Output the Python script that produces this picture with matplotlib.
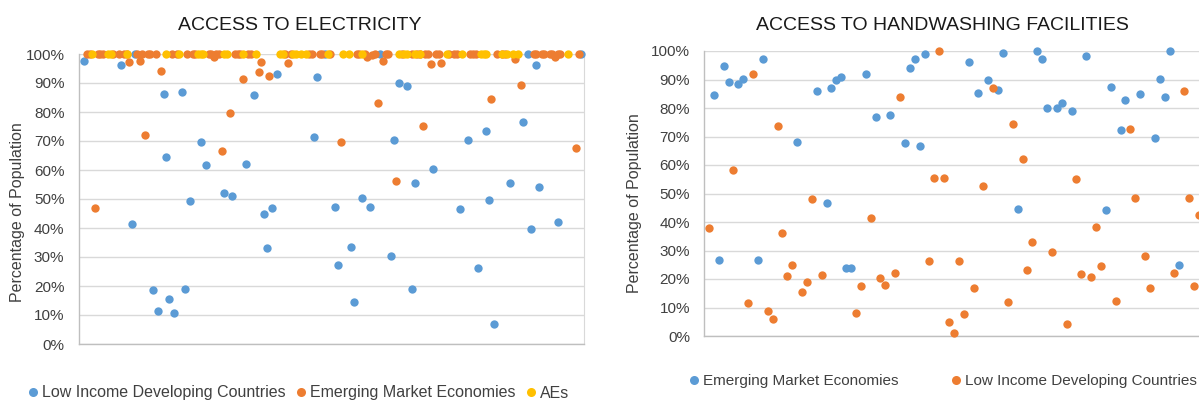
import matplotlib
matplotlib.use("Agg")
import matplotlib.pyplot as plt
from matplotlib.lines import Line2D
from matplotlib.ticker import FuncFormatter

plt.rcParams['font.family'] = ['Liberation Sans', 'DejaVu Sans']

BLUE = '#5B9BD5'
ORANGE = '#ED7D31'
YELLOW = '#FFC000'

# ---------------- Access to electricity (country index, % of population) ----------------
elec_lidc_x = [2, 16, 20, 21, 28, 30, 32, 33, 34, 36, 39, 40, 42, 46, 48, 55, 58, 63, 66, 70,
               71, 73, 75, 89, 90, 93, 97, 98, 103, 104, 107, 110, 114, 118, 119, 121, 124, 126,
               127, 134, 144, 147, 151, 154, 155, 157, 163, 168, 170, 171, 173, 174, 181, 190]
elec_lidc_y = [97.7, 96.2, 41.4, 100, 18.7, 11.5, 86.2, 64.6, 15.5, 10.7, 86.8, 19, 49.3, 69.7,
               61.7, 52.2, 51, 62.2, 86, 44.8, 33.1, 46.9, 93.1, 71.5, 92.1, 100, 47.2, 27.4, 33.4,
               14.5, 50.5, 47.2, 100, 30.3, 70.5, 89.9, 89.1, 19, 55.4, 60.3, 46.7, 70.5, 26.1,
               73.4, 49.5, 6.9, 55.4, 76.4, 100, 39.8, 96.2, 54, 42, 100]

elec_eme_x = [3, 4, 6, 7, 8, 9, 13, 15, 17, 18, 19, 22, 23, 24, 25, 26, 27, 29, 31, 35, 37, 41,
              43, 44, 49, 50, 51, 52, 53, 54, 57, 59, 60, 61, 62, 64, 65, 68, 69, 72, 78, 79, 80,
              87, 88, 91, 92, 95, 99, 105, 106, 108, 109, 111, 112, 113, 115, 116, 117, 120, 122,
              126, 128, 129, 130, 131, 132, 133, 135, 136, 137, 140, 142, 143, 148, 149, 150,
              156, 158, 160, 161, 165, 167, 172, 173, 175, 176, 178, 179, 180, 181, 182, 188, 189]
elec_eme_y = [100, 100, 46.9, 100, 100, 100, 100, 100, 100, 100, 97.1, 100, 97.5, 100, 72, 100,
              100, 100, 94.3, 100, 100, 100, 100, 100, 100, 100, 98.9, 100, 100, 66.5, 79.8, 100,
              100, 100, 91.5, 100, 100, 93.7, 97.2, 92.5, 100, 96.9, 100, 100, 100, 100, 100, 100,
              69.6, 100, 100, 100, 99, 99.6, 100, 83.1, 97.7, 100, 100, 56.2, 100, 100, 100, 100,
              75.3, 100, 100, 96.7, 100, 100, 96.9, 100, 100, 100, 100, 100, 100, 84.4, 100, 100,
              100, 98.2, 89.3, 100, 100, 100, 100, 100, 100, 99, 100, 100, 67.5, 100]

elec_ae_x = [5, 11, 12, 18, 33, 38, 45, 46, 47, 55, 56, 62, 67, 76, 77, 81, 82, 84, 86, 94, 100,
             102, 107, 121, 123, 124, 127, 129, 139, 145, 152, 153, 154, 160, 162, 164, 166, 185]
elec_ae_y = [100, 100, 100, 100, 100, 100, 100, 100, 100, 100, 100, 100, 100, 100, 100, 100, 100,
             100, 100, 100, 100, 100, 100, 100, 100, 100, 100, 100, 100, 100, 100, 100, 100, 100,
             100, 100, 100, 100]

# ---------------- Access to handwashing facilities ----------------
hand_eme_x = [2, 3, 4, 5, 7, 8, 11, 12, 19, 23, 25, 26, 27, 28, 29, 30, 33, 35, 38, 41, 42, 43,
              44, 45, 54, 56, 58, 60, 61, 64, 68, 69, 70, 72, 73, 75, 78, 82, 83, 85, 86, 89, 92,
              93, 94, 95, 97]
hand_eme_y = [84.7, 26.7, 94.8, 89.2, 88.4, 90.1, 26.7, 97.3, 68, 86, 46.7, 87.1, 89.9, 90.8, 24,
              24, 91.8, 76.8, 77.4, 67.7, 94, 97.3, 66.5, 99, 96, 85.3, 89.9, 86.3, 99.4, 44.4, 100,
              97.3, 79.9, 80.1, 81.8, 78.8, 98.2, 44.2, 87.4, 72.2, 82.7, 85, 69.5, 90.2, 84, 100, 25]

hand_lidc_x = [1, 6, 9, 10, 13, 14, 15, 16, 17, 18, 20, 21, 22, 24, 31, 32, 34, 36, 37, 39, 40,
               46, 47, 48, 49, 50, 51, 52, 53, 55, 57, 59, 62, 63, 65, 66, 67, 71, 74, 76, 77, 79,
               80, 81, 84, 87, 88, 90, 91, 96, 98, 99, 100, 101]
hand_lidc_y = [37.8, 58.2, 11.7, 91.8, 8.8, 6, 73.8, 36.1, 21.2, 25, 15.3, 19.1, 48.1, 21.4, 8,
               17.7, 41.4, 20.4, 17.9, 22, 84, 26.4, 55.6, 99.9, 55.6, 5, 0.9, 26.4, 7.8, 16.7,
               52.5, 87.1, 12, 74.3, 62.2, 23.2, 33.1, 29.5, 4.3, 55.2, 21.6, 20.8, 38.2, 24.7,
               12.3, 72.8, 48.3, 28.1, 16.7, 22.2, 86, 48.3, 17.7, 42.3]

y_ticks = [0, 10, 20, 30, 40, 50, 60, 70, 80, 90, 100]

W, H = 1199, 401
fig = plt.figure(figsize=(W / 100, H / 100), dpi=100)

TXT = '#404040'
GRID = '#d9d9d9'
MS = 36


def style(ax, pad):
    ax.set_ylim(0, 100)
    ax.set_yticks(y_ticks)
    ax.yaxis.set_major_formatter(FuncFormatter(lambda v, p: f'{v:.0f}%'))
    ax.set_xticks([])
    ax.grid(axis='y', color=GRID, lw=1)
    ax.set_axisbelow(True)
    ax.spines['top'].set_visible(False)
    for s in ('left', 'bottom'):
        ax.spines[s].set_color('#bfbfbf')
        ax.spines[s].set_linewidth(1)
    ax.tick_params(axis='y', length=0, pad=pad, labelsize=11, labelcolor=TXT)


# Left chart
ax1 = fig.add_axes([79 / W, 1 - 344 / H, 505 / W, 290 / H])
ax1.scatter(elec_lidc_x, elec_lidc_y, s=MS, c=BLUE, linewidths=0, clip_on=False, zorder=3)
ax1.scatter(elec_eme_x, elec_eme_y, s=MS, c=ORANGE, linewidths=0, clip_on=False, zorder=4)
ax1.scatter(elec_ae_x, elec_ae_y, s=MS, c=YELLOW, linewidths=0, clip_on=False, zorder=5)
ax1.set_xlim(0, 191)
style(ax1, 10.5)
ax1.spines['right'].set_color(GRID)
ax1.set_ylabel('Percentage of Population', fontsize=11.5, color=TXT)
ax1.yaxis.set_label_coords((25 - 79) / 505, (344 - 212) / 290)
fig.text(300 / W, 1 - 25 / H, 'ACCESS TO ELECTRICITY', ha='center', va='center',
         fontsize=14, color='#1a1a1a')
h1 = [Line2D([], [], marker='o', ls='', color=c, markersize=6.5, markeredgewidth=0)
      for c in (BLUE, ORANGE, YELLOW)]
ax1.legend(h1, ['Low Income Developing Countries', 'Emerging Market Economies', 'AEs'],
           loc='center left', bbox_to_anchor=(28 / W, 1 - 393 / H), bbox_transform=fig.transFigure,
           ncol=3, frameon=False, borderpad=0, borderaxespad=0, handlelength=0.6,
           handletextpad=0.3, columnspacing=0.63, fontsize=11.5, labelcolor=TXT)

# Right chart
xw = 4.9 * 103
ax2 = fig.add_axes([704 / W, 1 - 336 / H, xw / W, 285 / H])
ax2.scatter(hand_eme_x, hand_eme_y, s=MS, c=BLUE, linewidths=0, clip_on=False, zorder=3)
ax2.scatter(hand_lidc_x, hand_lidc_y, s=MS, c=ORANGE, linewidths=0, clip_on=False, zorder=4)
ax2.set_xlim(0, 103)
style(ax2, 10)
ax2.spines['right'].set_visible(False)
ax2.set_ylabel('Percentage of Population', fontsize=11.5, color=TXT)
ax2.yaxis.set_label_coords((642 - 704) / xw, (336 - 203) / 285)
fig.text(942 / W, 1 - 25 / H, 'ACCESS TO HANDWASHING FACILITIES', ha='center', va='center',
         fontsize=14, color='#1a1a1a')
h2 = [Line2D([], [], marker='o', ls='', color=c, markersize=6.5, markeredgewidth=0)
      for c in (BLUE, ORANGE)]
ax2.legend(h2, ['Emerging Market Economies', 'Low Income Developing Countries'],
           loc='center left', bbox_to_anchor=(689 / W, 1 - 381 / H), bbox_transform=fig.transFigure,
           ncol=2, frameon=False, borderpad=0, borderaxespad=0, handlelength=0.6,
           handletextpad=0.3, columnspacing=3.5, fontsize=11, labelcolor=TXT)

fig.savefig('out.png', dpi=100)
